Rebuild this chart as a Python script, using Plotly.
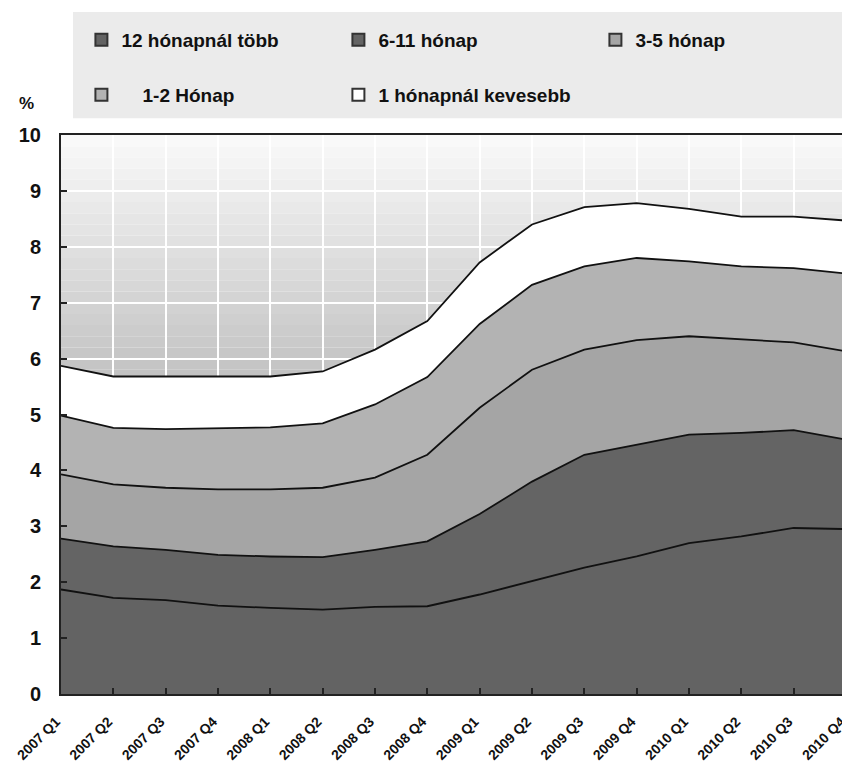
import plotly.graph_objects as go

quarters = ["2007 Q1", "2007 Q2", "2007 Q3", "2007 Q4",
            "2008 Q1", "2008 Q2", "2008 Q3", "2008 Q4",
            "2009 Q1", "2009 Q2", "2009 Q3", "2009 Q4",
            "2010 Q1", "2010 Q2", "2010 Q3", "2010 Q4"]

over_12 = [1.87, 1.72, 1.68, 1.58, 1.54, 1.51, 1.56, 1.57, 1.78, 2.02, 2.26, 2.46, 2.70, 2.82, 2.97, 2.95]
m6_11 = [0.91, 0.92, 0.90, 0.91, 0.92, 0.94, 1.02, 1.16, 1.44, 1.78, 2.02, 2.00, 1.94, 1.85, 1.75, 1.60]
m3_5 = [1.15, 1.11, 1.11, 1.17, 1.20, 1.24, 1.29, 1.55, 1.90, 2.00, 1.88, 1.87, 1.76, 1.67, 1.57, 1.58]
m1_2 = [1.05, 1.01, 1.05, 1.10, 1.11, 1.15, 1.31, 1.39, 1.50, 1.52, 1.49, 1.47, 1.34, 1.31, 1.33, 1.39]
under_1 = [0.89, 0.92, 0.94, 0.92, 0.91, 0.93, 0.98, 1.00, 1.10, 1.08, 1.06, 0.98, 0.94, 0.89, 0.92, 0.95]

series_names = ["12 hónapnál több", "6-11 hónap", "3-5 hónap",
                "\u00a0\u00a0\u00a0\u00a01-2 Hónap", "1 hónapnál kevesebb"]
series_values = [over_12, m6_11, m3_5, m1_2, under_1]
series_colors = ["#636363", "#646464", "#a5a5a5", "#b3b3b3", "#ffffff"]
series_legends = ["legend", "legend", "legend", "legend2", "legend2"]

y_ticks = list(range(0, 11))

fig = go.Figure()
for name, vals, col in zip(series_names, series_values, series_colors):
    fig.add_trace(go.Scatter(
        x=quarters, y=vals, name=name, mode="lines",
        stackgroup="one", fillcolor=col,
        line=dict(color="#111111", width=1.8),
        showlegend=False,
    ))

# legend entries with square icons
for name, col, lg in zip(series_names, series_colors, series_legends):
    fig.add_trace(go.Scatter(
        x=[None], y=[None], name=name, mode="markers",
        marker=dict(symbol="square", size=12, color=col, line=dict(color="#333333", width=2)),
        legend=lg, showlegend=True,
    ))

# gradient background of plot area (decoration)
shapes = []
nb = 50
for k in range(nb):
    y0 = 10 * k / nb
    y1 = 10 * (k + 1) / nb
    ym = (y0 + y1) / 2
    c = int(round(250 - 13.0 * (10 - ym)))
    c = max(0, min(255, c))
    shapes.append(dict(type="rect", xref="paper", yref="y", x0=0, x1=1, y0=y0, y1=y1,
                       fillcolor=f"rgb({c},{c},{c})", line=dict(width=0), layer="below"))
# legend background box
shapes.append(dict(type="rect", xref="paper", yref="paper", x0=0.0153, x1=1.003,
                   y0=1.030, y1=1.220, fillcolor="#ebebeb", line=dict(width=0), layer="below"))

font_family = "Liberation Sans, Arial, sans-serif"
leg_font = dict(family=font_family, size=19, color="#111111", weight="bold")

fig.update_layout(
    width=842, height=761,
    margin=dict(l=53, r=4, t=127, b=75, autoexpand=False),
    paper_bgcolor="white",
    plot_bgcolor="rgba(0,0,0,0)",
    shapes=shapes,
    showlegend=True,
    legend=dict(x=0.026, y=1.170, xanchor="left", yanchor="middle", orientation="h",
                bgcolor="rgba(0,0,0,0)", entrywidth=212, entrywidthmode="pixels",
                font=leg_font, traceorder="normal"),
    legend2=dict(x=0.026, y=1.0716, xanchor="left", yanchor="middle", orientation="h",
                 bgcolor="rgba(0,0,0,0)", entrywidth=212, entrywidthmode="pixels",
                 font=leg_font, traceorder="normal"),
    xaxis=dict(type="category", range=[0, 15], showgrid=True, gridcolor="white", gridwidth=1.5,
               ticks="inside", ticklen=6, tickcolor="#222222", tickwidth=1.5,
               tickangle=-45, ticklabelstandoff=12, ticklabelshift=-5,
               tickfont=dict(family=font_family, size=14, color="#111111", weight="bold"),
               showline=True, mirror=True, linecolor="#222222", linewidth=2, zeroline=False),
    yaxis=dict(range=[0, 10], tickvals=y_ticks, showgrid=True, gridcolor="white", gridwidth=1.5,
               ticks="inside", ticklen=6, tickcolor="#222222", tickwidth=1.5,
               tickfont=dict(family=font_family, size=20, color="#111111", weight="bold"),
               ticklabelstandoff=14,
               showline=True, mirror=True, linecolor="#222222", linewidth=2, zeroline=False),
    annotations=[dict(text="%", xref="paper", yref="paper", x=-0.044, y=1.057,
                      showarrow=False, xanchor="center", yanchor="middle",
                      font=dict(family=font_family, size=17, color="#111111", weight="bold"))],
)

fig.write_html("out.html")
